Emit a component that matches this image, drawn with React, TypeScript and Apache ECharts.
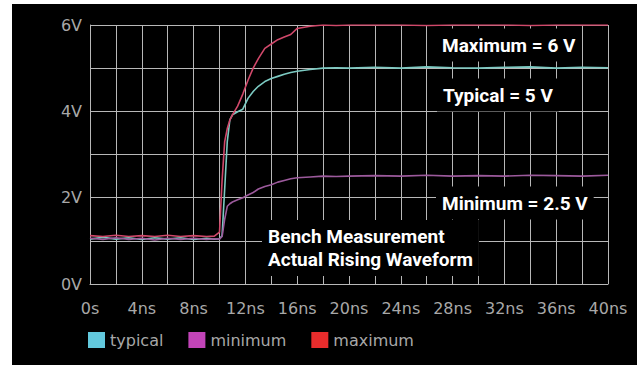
import React, { useEffect, useRef } from "react";
import * as echarts from "echarts";

const timeNs = [0, 1, 2, 3, 4, 5, 6, 7, 8, 9, 9.6, 10, 10.2, 10.4, 10.6, 10.8, 11, 11.4, 11.8, 12.2, 12.6, 13, 13.5, 14, 14.5, 15, 15.5, 16, 17, 18, 19, 20, 22, 24, 26, 28, 30, 32, 34, 36, 38, 40];
const typicalV = [1.04, 1.08, 1.04, 1.07, 1.03, 1.07, 1.04, 1.07, 1.03, 1.06, 1.04, 1.05, 1.12, 2.2, 3.3, 3.8, 3.92, 3.99, 4.05, 4.3, 4.46, 4.58, 4.69, 4.76, 4.81, 4.86, 4.9, 4.93, 4.97, 5.0, 5.01, 5.0, 5.02, 5.0, 5.03, 5.01, 5.0, 5.02, 5.03, 5.0, 5.02, 5.01];
const minimumV = [1.06, 1.03, 1.07, 1.03, 1.06, 1.02, 1.06, 1.03, 1.06, 1.03, 1.05, 1.04, 1.1, 1.5, 1.8, 1.86, 1.9, 1.95, 2.0, 2.06, 2.12, 2.2, 2.26, 2.3, 2.36, 2.4, 2.44, 2.46, 2.48, 2.5, 2.49, 2.5, 2.51, 2.5, 2.52, 2.5, 2.51, 2.5, 2.52, 2.51, 2.5, 2.52];
const maximumV = [1.12, 1.1, 1.13, 1.1, 1.12, 1.1, 1.13, 1.1, 1.12, 1.1, 1.11, 1.2, 2.4, 3.3, 3.6, 3.8, 3.92, 4.12, 4.4, 4.72, 5.0, 5.22, 5.46, 5.56, 5.66, 5.72, 5.78, 5.92, 5.97, 6.0, 5.99, 6.0, 6.0, 6.0, 5.99, 6.0, 6.0, 6.0, 5.99, 6.0, 6.0, 6.0];

const seriesNames = ["typical", "minimum", "maximum"];
const xTickLabels = ["0s", "4ns", "8ns", "12ns", "16ns", "20ns", "24ns", "28ns", "32ns", "36ns", "40ns"];
const yTickLabels = ["0V", "2V", "4V", "6V"];
const annotationTexts = ["Maximum = 6 V", "Typical = 5 V", "Minimum = 2.5 V", "Bench Measurement\nActual Rising Waveform"];

const lineColors = ["#7ccac2", "#9c5a9c", "#d0486a"];
const legendColors = ["#62c8dc", "#c244b8", "#e82c2c"];

export default function App() {
  const ref = useRef<HTMLDivElement>(null);
  useEffect(() => {
    if (!ref.current) return;
    const chart = echarts.init(ref.current, null, { renderer: "svg" });
    const values = [typicalV, minimumV, maximumV];
    const gridColor = "#b8b8b8";
    const labelColor = "#a8a8a8";
    const annoStyle = (text: string, x: number, y: number) => ({
      type: "text",
      x,
      y,
      z: 100,
      style: {
        text,
        fill: "#ffffff",
        font: "bold 19px Roboto",
        lineHeight: 23,
        backgroundColor: "#000000",
        padding: [5, 6, 5, 6],
        verticalAlign: "middle",
      },
    });
    chart.setOption({
      animation: false,
      backgroundColor: "#000000",
      grid: { left: 78, top: 21, right: 29, bottom: 81 },
      xAxis: {
        type: "value",
        min: 0,
        max: 40,
        interval: 4,
        axisLine: { show: true, onZero: false, lineStyle: { color: gridColor, width: 1 } },
        axisTick: { show: false },
        splitLine: { show: true, lineStyle: { color: gridColor, width: 1 } },
        minorTick: { show: false, splitNumber: 2 },
        minorSplitLine: { show: true, lineStyle: { color: gridColor, width: 1 } },
        axisLabel: {
          color: labelColor,
          fontFamily: "DejaVu Sans",
          fontSize: 16,
          margin: 16,
          formatter: (v: number) => xTickLabels[Math.round(v / 4)] ?? "",
        },
      },
      yAxis: {
        type: "value",
        min: 0,
        max: 6,
        interval: 2,
        axisLine: { show: true, lineStyle: { color: gridColor, width: 1 } },
        axisTick: { show: false },
        splitLine: { show: true, lineStyle: { color: gridColor, width: 1 } },
        minorTick: { show: false, splitNumber: 2 },
        minorSplitLine: { show: true, lineStyle: { color: gridColor, width: 1 } },
        axisLabel: {
          color: labelColor,
          fontFamily: "DejaVu Sans",
          fontSize: 16,
          margin: 8,
          formatter: (v: number) => yTickLabels[Math.round(v / 2)] ?? "",
        },
      },
      legend: {
        left: 71,
        top: 323,
        itemWidth: 17,
        itemHeight: 16,
        itemGap: 25,
        icon: "rect",
        textStyle: { color: labelColor, fontFamily: "DejaVu Sans", fontSize: 16 },
        data: seriesNames.map((n, i) => ({ name: n, icon: "rect", itemStyle: { color: legendColors[i] } })),
      },
      series: seriesNames.map((n, i) => ({
        name: n,
        type: "line",
        showSymbol: false,
        symbol: "none",
        data: timeNs.map((t, k) => [t, values[i][k]]),
        itemStyle: { color: legendColors[i] },
        lineStyle: { color: lineColors[i], width: 1.6 },
        z: 3 + i,
      })),
      graphic: [
        annoStyle(annotationTexts[0], 424, 41),
        annoStyle(annotationTexts[1], 425, 91),
        annoStyle(annotationTexts[2], 424, 199),
        annoStyle(annotationTexts[3], 250, 244),
      ],
    });
    return () => chart.dispose();
  }, []);
  return (
    <div style={{ position: "fixed", left: 0, top: 0, width: 642, height: 365, background: "#ffffff" }}>
      <div ref={ref} style={{ position: "absolute", left: 12, top: 4, width: 625, height: 361, background: "#000" }} />
    </div>
  );
}
